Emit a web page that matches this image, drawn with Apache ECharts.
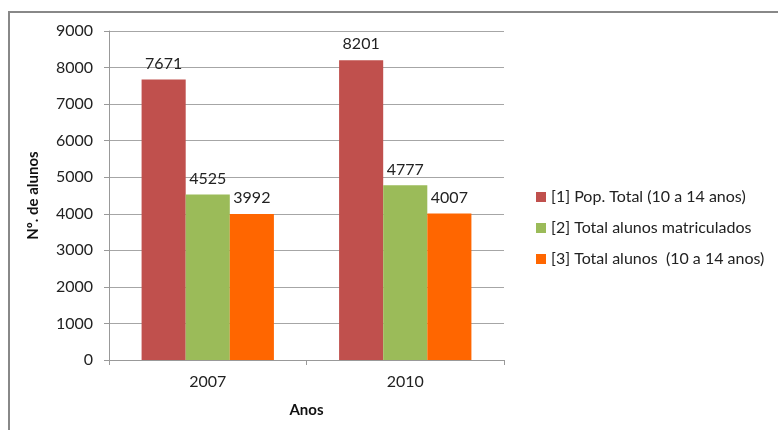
<!DOCTYPE html>
<html>
<head>
<meta charset="utf-8">
<script src="https://cdn.jsdelivr.net/npm/echarts@6/dist/echarts.min.js"></script>
<style>
  html, body { margin: 0; padding: 0; background: #fff; }
  #chart { width: 778px; height: 430px; }
</style>
</head>
<body>
<div id="chart"></div>
<script>
// dados
const anos = ['2007', '2010'];
const popTotal = [7671, 8201];
const matriculados = [4525, 4777];
const alunos10a14 = [3992, 4007];
const seriesNames = ['[1] Pop. Total (10 a 14 anos)', '[2] Total alunos matriculados', '[3] Total alunos  (10 a 14 anos)'];
const colors = ['#C0504D', '#9BBB59', '#FF6600'];

const FONT = 'Lato, "Open Sans", sans-serif';
const chart = echarts.init(document.getElementById('chart'));

const mkSeries = (name, data, color) => ({
  name, type: 'bar', data,
  barGap: '0%', barCategoryGap: '33%',
  itemStyle: { color },
  label: { show: true, position: 'top', distance: 8, color: '#222', fontSize: 16, fontFamily: FONT },
  emphasis: { disabled: true }
});

chart.setOption({
  animation: false,
  textStyle: { fontFamily: FONT },
  grid: { left: 109, right: 274, top: 31, bottom: 70 },
  legend: {
    orient: 'vertical', left: 531, top: 184,
    icon: 'rect', itemWidth: 10, itemHeight: 10, itemGap: 15,
    textStyle: { fontSize: 16, color: '#222', fontFamily: FONT },
    data: seriesNames
  },
  xAxis: {
    type: 'category', data: anos,
    name: 'Anos', nameLocation: 'middle', nameGap: 43,
    nameTextStyle: { fontWeight: 'bold', fontSize: 15, color: '#111' },
    axisLine: { lineStyle: { color: '#999' } },
    axisTick: { show: true, length: 5, lineStyle: { color: '#999' } },
    axisLabel: { fontSize: 16, color: '#222', margin: 14 }
  },
  yAxis: {
    type: 'value', min: 0, max: 9000, interval: 1000,
    name: 'Nº. de alunos', nameLocation: 'middle', nameGap: 68,
    nameTextStyle: { fontWeight: 'bold', fontSize: 15, color: '#111' },
    axisLine: { show: true, lineStyle: { color: '#999' } },
    axisTick: { show: true, length: 5, lineStyle: { color: '#999' } },
    axisLabel: { fontSize: 16, color: '#222', margin: 16, formatter: v => String(v) },
    splitLine: { lineStyle: { color: '#a6a6a6' } }
  },
  graphic: [{
    type: 'polyline', silent: true,
    shape: { points: [[9, 430], [9, 12], [778, 12]] },
    style: { stroke: '#888', lineWidth: 2, fill: null }
  }],
  series: [
    mkSeries(seriesNames[0], popTotal, colors[0]),
    mkSeries(seriesNames[1], matriculados, colors[1]),
    mkSeries(seriesNames[2], alunos10a14, colors[2])
  ]
});
</script>
</body>
</html>
